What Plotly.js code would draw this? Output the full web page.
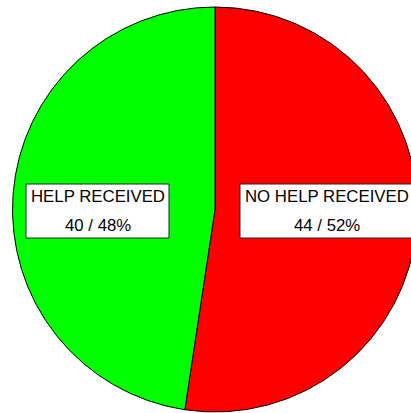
<!DOCTYPE html>
<html>
<head>
<meta charset="utf-8">
<script src="https://cdn.plot.ly/plotly-3.0.1.min.js"></script>
<style>
html,body{margin:0;padding:0;overflow:hidden;background:#fff;}
#chart{width:430px;height:413px;}
</style>
</head>
<body>
<div id="chart"></div>
<script>
// Data
const categories = ["NO HELP RECEIVED", "HELP RECEIVED"];
const counts = [44, 40];
const sliceColors = ["#FF0000", "#00FF00"];

const W = 430, H = 413;
const px = x => x / W;
const py = y => (H - y) / H;

const total = counts.reduce((a, b) => a + b, 0);
const pcts = counts.map(v => Math.round(v / total * 100));

const trace = {
  type: "pie",
  labels: categories,
  values: counts,
  sort: false,
  direction: "clockwise",
  rotation: 0,
  textinfo: "none",
  hoverinfo: "label+value+percent",
  marker: { colors: sliceColors, line: { color: "#000", width: 1 } },
  domain: { x: [px(12), px(418)], y: [py(412), py(7)] },
  showlegend: false
};

// label box geometry (layout only)
const boxes = [
  { x0: 240, x1: 416, cx: 327 },
  { x0: 26, x1: 169, cx: 97.5 }
];
const boxTop = 184, boxBottom = 238, line1Y = 196.5, line2Y = 226;
const fontSpec = { family: "Liberation Sans, Arial, sans-serif", size: 16.8, color: "#000" };

const shapes = [], annotations = [];
categories.forEach((cat, i) => {
  const b = boxes[i];
  shapes.push({
    type: "rect", xref: "paper", yref: "paper",
    x0: px(b.x0), x1: px(b.x1), y0: py(boxBottom), y1: py(boxTop),
    fillcolor: "#fff", line: { color: "#222", width: 1 }
  });
  annotations.push({
    xref: "paper", yref: "paper", x: px(b.cx), y: py(line1Y),
    xanchor: "center", yanchor: "middle", showarrow: false,
    text: cat, font: fontSpec
  });
  annotations.push({
    xref: "paper", yref: "paper", x: px(b.cx), y: py(line2Y),
    xanchor: "center", yanchor: "middle", showarrow: false,
    text: counts[i] + " / " + pcts[i] + "%",
    font: fontSpec
  });
});

const layout = {
  width: W, height: H,
  margin: { l: 0, r: 0, t: 0, b: 0, pad: 0 },
  paper_bgcolor: "#fff",
  plot_bgcolor: "#fff",
  shapes: shapes,
  annotations: annotations
};

Plotly.newPlot("chart", [trace], layout, { displayModeBar: false, staticPlot: true });
</script>
</body>
</html>
